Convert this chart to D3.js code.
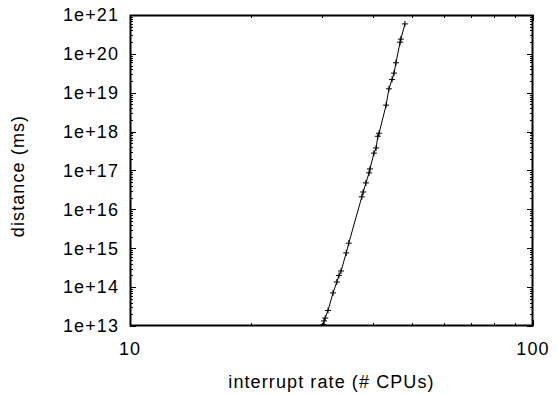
<!DOCTYPE html>
<html><head><meta charset="utf-8">
<script src="https://cdn.jsdelivr.net/npm/d3@7"></script>
<style>body{margin:0;background:#fff}svg{display:block}text{font-family:"Liberation Sans",Arial,sans-serif;fill:#000;letter-spacing:1.1px}</style>
</head><body>
<svg id="c" width="557" height="394"></svg>
<script>
const xValues = [30.2, 30.3, 30.5, 31.0, 31.9, 32.6, 33.0, 33.4, 34.4, 34.9, 37.6, 37.9, 38.5, 39.2, 39.4, 40.3, 40.8, 41.2, 41.5, 43.2, 43.9, 44.7, 45.2, 45.7, 46.8, 47.0, 48.1];
const yValues = [1.1e13, 1.35e13, 1.6e13, 2.5e13, 7.1e13, 1.35e14, 2.0e14, 2.6e14, 7.6e14, 1.35e15, 2.1e16, 2.8e16, 4.8e16, 8.7e16, 1.1e17, 2.8e17, 3.8e17, 7.6e17, 9.1e17, 4.8e18, 1.26e19, 2.2e19, 3.2e19, 5.9e19, 2.0e20, 2.4e20, 5.9e20];
const xTickValues = [10, 100];
const yTickValues = [1e13,1e14,1e15,1e16,1e17,1e18,1e19,1e20,1e21];
const xTitle = "interrupt rate (# CPUs)";
const yTitle = "distance (ms)";

const svg = d3.select("#c");
const L=130, R=533, T=15, B=326;
const x = d3.scaleLog().domain([10,100]).range([L,R]);
const y = d3.scaleLog().domain([1e13,1e21]).range([B,T]);
const fmtY = v => "1e+" + Math.round(Math.log10(v));

const g = svg.append("g");
const xMinor = d3.range(2,10).map(d=>d*10);
const yMinor = [];
for (let e=13;e<21;e++) for (let m=2;m<10;m++) yMinor.push(m*Math.pow(10,e));
const tk = g.append("g").attr("stroke","#000").attr("stroke-width",1);
xMinor.forEach(v=>{const px=Math.round(x(v))+0.5;
  tk.append("line").attr("x1",px).attr("x2",px).attr("y1",B).attr("y2",B-3);
  tk.append("line").attr("x1",px).attr("x2",px).attr("y1",T).attr("y2",T+3);});
yMinor.forEach(v=>{const py=Math.round(y(v))+0.5;
  tk.append("line").attr("x1",L).attr("x2",L+3).attr("y1",py).attr("y2",py);
  tk.append("line").attr("x1",R).attr("x2",R-3).attr("y1",py).attr("y2",py);});
yTickValues.forEach(v=>{const py=Math.round(y(v))+0.5;
  tk.append("line").attr("x1",L).attr("x2",L+6).attr("y1",py).attr("y2",py);
  tk.append("line").attr("x1",R).attr("x2",R-6).attr("y1",py).attr("y2",py);});
xTickValues.forEach(v=>{const px=Math.round(x(v))+0.5;
  tk.append("line").attr("x1",px).attr("x2",px).attr("y1",B).attr("y2",B-6);
  tk.append("line").attr("x1",px).attr("x2",px).attr("y1",T).attr("y2",T+6);});

g.selectAll(".yl").data(yTickValues).enter().append("text")
  .attr("x",L-11).attr("y",d=>y(d)).attr("dy","0.35em").attr("text-anchor","end")
  .attr("font-size",18).text(fmtY);
g.selectAll(".xl").data(xTickValues).enter().append("text")
  .attr("x",d=>x(d)).attr("y",B+29).attr("text-anchor","middle")
  .attr("font-size",18).text(d=>d);
g.append("text").attr("x",(L+R)/2).attr("y",388).attr("text-anchor","middle").attr("font-size",18).text(xTitle);
g.append("text").attr("transform","translate(24,176) rotate(-90)").attr("text-anchor","middle").attr("font-size",18).text(yTitle);

svg.append("clipPath").attr("id","clip").append("rect").attr("x",L).attr("y",T).attr("width",R-L).attr("height",B-T);
const data = xValues.map((v,i)=>[v,yValues[i]]);
const pg = svg.append("g").attr("clip-path","url(#clip)");
pg.append("path").datum(data).attr("fill","none").attr("stroke","#000").attr("stroke-width",1)
  .attr("d", d3.line().x(d=>x(d[0])).y(d=>y(d[1])));
pg.selectAll(".p").data(data).enter().append("path")
  .attr("stroke","#000").attr("stroke-width",1).attr("fill","none")
  .attr("d", d=>{const cx=x(d[0]), cy=y(d[1]); return `M${cx-3},${cy}H${cx+3}M${cx},${cy-3}V${cy+3}`;});

svg.append("rect").attr("x",L+0.5).attr("y",T+0.5).attr("width",R-L-1).attr("height",B-T-1)
  .attr("fill","none").attr("stroke","#000").attr("stroke-width",2);
</script>
</body></html>
